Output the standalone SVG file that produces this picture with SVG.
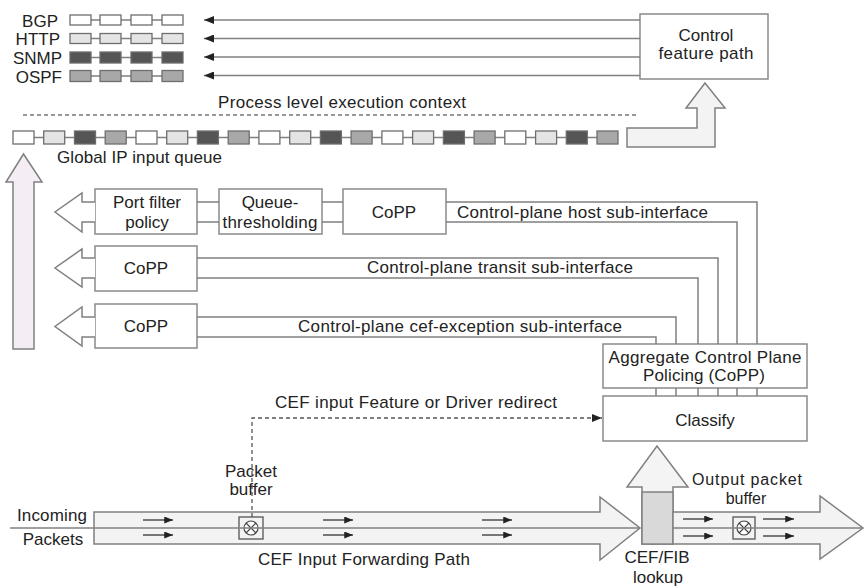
<svg xmlns="http://www.w3.org/2000/svg" width="866" height="587" viewBox="0 0 866 587">
<defs>
<style>
text{font-family:"Liberation Sans",Arial,sans-serif;font-size:17px;fill:#222}
.m{text-anchor:middle}
.e{text-anchor:end}
.box{fill:#fff;stroke:#8a8a8a;stroke-width:1.5}
.ln{fill:none;stroke:#808080;stroke-width:1.5}
.q{stroke:#6e6e6e;stroke-width:1.3}
.q0{fill:#fff}.q1{fill:#e4e4e4}.q2{fill:#555}.q3{fill:#a8a8a8}
.big{fill:#f3f3f3;stroke:#808080;stroke-width:1.5}
.arr{fill:#fff;stroke:#808080;stroke-width:1.5}
.sm{stroke:#333;stroke-width:1.3;fill:none}
</style>
<marker id="ah" viewBox="0 0 10 8" refX="10" refY="4" markerWidth="11" markerHeight="8" markerUnits="userSpaceOnUse" orient="auto">
<path d="M0,0 L10,4 L0,8 Z" fill="#222"/>
</marker>
<marker id="ahs" viewBox="0 0 10 8" refX="10" refY="4" markerWidth="10" markerHeight="7" markerUnits="userSpaceOnUse" orient="auto">
<path d="M0,0 L10,4 L0,8 Z" fill="#222"/>
</marker>
</defs>

<!-- Protocol queues -->
<g id="queue-bgp">
<text x="58" y="26.5" class="e">BGP</text>
<path class="ln" d="M91,20 H100 M121,20 H131 M152,20 H162"/>
<rect class="q q0" x="70" y="15" width="21" height="10"/><rect class="q q0" x="100" y="15" width="21" height="10"/><rect class="q q0" x="131" y="15" width="21" height="10"/><rect class="q q0" x="162" y="15" width="21" height="10"/>
</g>
<g id="queue-http">
<text x="60" y="45" class="e">HTTP</text>
<path class="ln" d="M91,38.5 H100 M121,38.5 H131 M152,38.5 H162"/>
<rect class="q q1" x="70" y="33.5" width="21" height="10"/><rect class="q q1" x="100" y="33.5" width="21" height="10"/><rect class="q q1" x="131" y="33.5" width="21" height="10"/><rect class="q q1" x="162" y="33.5" width="21" height="10"/>
</g>
<g id="queue-snmp">
<text x="62" y="64" class="e">SNMP</text>
<path class="ln" d="M91,57.5 H100 M121,57.5 H131 M152,57.5 H162"/>
<rect class="q q2" x="70" y="52" width="21" height="11"/><rect class="q q2" x="100" y="52" width="21" height="11"/><rect class="q q2" x="131" y="52" width="21" height="11"/><rect class="q q2" x="162" y="52" width="21" height="11"/>
</g>
<g id="queue-ospf">
<text x="62" y="83" class="e">OSPF</text>
<path class="ln" d="M91,76 H100 M121,76 H131 M152,76 H162"/>
<rect class="q q3" x="70" y="70.5" width="21" height="11"/><rect class="q q3" x="100" y="70.5" width="21" height="11"/><rect class="q q3" x="131" y="70.5" width="21" height="11"/><rect class="q q3" x="162" y="70.5" width="21" height="11"/>
</g>

<g id="control-feature-path">
<rect class="box" x="640" y="14" width="128" height="65"/>
<text x="706" y="41" class="m">Control</text>
<text x="706" y="59" class="m" textLength="95" lengthAdjust="spacing">feature path</text>
</g>

<g id="process-context">
<text x="218" y="108" textLength="248" lengthAdjust="spacing">Process level execution context</text>
<line x1="23" y1="115" x2="637" y2="115" stroke="#777" stroke-width="1.5" stroke-dasharray="4 3"/>
</g>

<g id="global-ip-input-queue">
<path class="ln" d="M34,137.5 H598"/>
<rect class="q q0" x="13" y="131" width="21" height="13"/>
<rect class="q q1" x="43.7" y="131" width="21" height="13"/>
<rect class="q q2" x="74.5" y="131" width="21" height="13"/>
<rect class="q q3" x="105.2" y="131" width="21" height="13"/>
<rect class="q q0" x="136" y="131" width="21" height="13"/>
<rect class="q q1" x="166.7" y="131" width="21" height="13"/>
<rect class="q q2" x="197.4" y="131" width="21" height="13"/>
<rect class="q q3" x="228.2" y="131" width="21" height="13"/>
<rect class="q q0" x="258.9" y="131" width="21" height="13"/>
<rect class="q q1" x="289.7" y="131" width="21" height="13"/>
<rect class="q q2" x="320.4" y="131" width="21" height="13"/>
<rect class="q q3" x="351.1" y="131" width="21" height="13"/>
<rect class="q q0" x="381.9" y="131" width="21" height="13"/>
<rect class="q q1" x="412.6" y="131" width="21" height="13"/>
<rect class="q q2" x="443.4" y="131" width="21" height="13"/>
<rect class="q q3" x="474.1" y="131" width="21" height="13"/>
<rect class="q q0" x="504.8" y="131" width="21" height="13"/>
<rect class="q q1" x="535.6" y="131" width="21" height="13"/>
<rect class="q q2" x="566.3" y="131" width="21" height="13"/>
<rect class="q q3" x="597" y="131" width="21" height="13"/>
<text x="57" y="163" textLength="165" lengthAdjust="spacing">Global IP input queue</text>
</g>

<g id="to-control-arrow">
<path class="big" d="M627,128 H697 V108 H686 L705,83 L725,108 H715 V147 H627 Z"/>
</g>

<g id="up-arrow-left">
<path d="M13,349 V182 H6 L23.5,154 L42,182 H34 V349 Z" fill="#f4eef4" stroke="#808080" stroke-width="1.5"/>
</g>

<g id="port-filter-policy">
<rect class="box" x="95" y="189" width="102" height="45"/>
<text x="147" y="208" class="m">Port filter</text>
<text x="147" y="228" class="m">policy</text>
</g>
<g id="queue-thresholding">
<rect class="box" x="219" y="189" width="103" height="45"/>
<text x="270" y="208" class="m">Queue-</text>
<text x="270" y="228" class="m" textLength="95" lengthAdjust="spacing">thresholding</text>
</g>
<g id="copp-host">
<rect class="box" x="343" y="189" width="103" height="45"/>
<text x="394" y="218" class="m">CoPP</text>
</g>
<g id="copp-transit">
<rect class="box" x="95" y="246" width="102" height="45"/>
<text x="146" y="274" class="m">CoPP</text>
</g>
<g id="copp-cef-exception">
<rect class="box" x="95" y="304" width="102" height="44"/>
<text x="146" y="332" class="m">CoPP</text>
</g>

<g id="aggregate-copp">
<rect class="box" x="603" y="344" width="204" height="44"/>
<text x="705" y="363" class="m" textLength="193" lengthAdjust="spacing">Aggregate Control Plane</text>
<text x="704" y="381" class="m" textLength="122" lengthAdjust="spacing">Policing (CoPP)</text>
</g>
<g id="classify">
<rect class="box" x="603" y="396" width="204" height="45"/>
<text x="705" y="426" class="m">Classify</text>
</g>

<g id="cef-fib-lookup">
<path d="M642,544 V487 H627 L657,446 L688,487 H673 V544 Z" fill="#f4f4f4" stroke="#808080" stroke-width="1.5"/>
<rect x="642" y="492" width="31" height="52" fill="#d9d9d9" stroke="#808080" stroke-width="1.5"/>
<text x="657" y="563" class="m">CEF/FIB</text>
<text x="658" y="583" class="m">lookup</text>
</g>

<g id="cef-input-forwarding-path">
<path class="big" d="M94,512 H600 V497 L640,528 L600,560 V544 H94 Z"/>
<text x="52" y="521" class="m" textLength="70" lengthAdjust="spacing">Incoming</text>
<text x="53" y="545" class="m">Packets</text>
<text x="258" y="565" textLength="212" lengthAdjust="spacing">CEF Input Forwarding Path</text>
</g>

<g id="packet-buffer">
<rect x="239" y="517" width="24" height="22" fill="#f3f3f3" stroke="#555" stroke-width="1.3"/>
<circle cx="251" cy="528" r="7" fill="#fff" stroke="#444" stroke-width="1.2"/>
<path d="M246,523 L256,533 M256,523 L246,533" stroke="#444" stroke-width="1.2"/>
<text x="251" y="477" class="m">Packet</text>
<text x="251" y="495" class="m">buffer</text>
</g>

<g id="output-path">
<path class="big" d="M673,512 H820 V496 L863,528 L820,559 V544 H673 Z"/>
<rect x="733" y="517" width="22" height="22" fill="#f3f3f3" stroke="#555" stroke-width="1.3"/>
<circle cx="744" cy="528" r="7" fill="#fff" stroke="#444" stroke-width="1.2"/>
<path d="M739,523 L749,533 M749,523 L739,533" stroke="#444" stroke-width="1.2"/>
<text x="747" y="485" class="m" style="font-size:16px" textLength="110" lengthAdjust="spacing">Output packet</text>
<text x="746" y="504" class="m" style="font-size:16px">buffer</text>
</g>

<g id="connectors">
<path class="ln" d="M640,20 H204" marker-end="url(#ah)"/>
<path class="ln" d="M640,38.5 H204" marker-end="url(#ah)"/>
<path class="ln" d="M640,57 H204" marker-end="url(#ah)"/>
<path class="ln" d="M640,75.5 H204" marker-end="url(#ah)"/>
<path class="arr" d="M95,202 H82 V193 L55,212 L82,232 V222 H95"/>
<path class="arr" d="M95,258 H82 V249 L55,268 L82,287 V278 H95"/>
<path class="arr" d="M95,317 H82 V307 L55,326.5 L82,346 V337 H95"/>
<path class="ln" d="M197,202 H219 M197,222 H219 M322,202 H343 M322,222 H343"/>
<path class="ln" d="M446,202 H757 V344"/>
<path class="ln" d="M446,222 H737 V344"/>
<path class="ln" d="M197,258 H718 V344"/>
<path class="ln" d="M197,278 H698 V344"/>
<path class="ln" d="M197,317 H676 V344"/>
<path class="ln" d="M197,337 H656 V344"/>
<path class="ln" d="M656,388 V396 M676,388 V396 M698,388 V396 M718,388 V396 M737,388 V396 M757,388 V396"/>
<text x="457" y="218" textLength="251" lengthAdjust="spacing">Control-plane host sub-interface</text>
<text x="367" y="273" textLength="266" lengthAdjust="spacing">Control-plane transit sub-interface</text>
<text x="298" y="332" textLength="324" lengthAdjust="spacing">Control-plane cef-exception sub-interface</text>
<path d="M252,517 V418 H602" fill="none" stroke="#555" stroke-width="1.3" stroke-dasharray="4 3" marker-end="url(#ah)"/>
<text x="275" y="408" textLength="282" lengthAdjust="spacing">CEF input Feature or Driver redirect</text>
<path class="ln" d="M10,528 H640"/>
<path class="ln" d="M673,528 H863"/>
<path class="sm" d="M143,520 H173" marker-end="url(#ahs)"/>
<path class="sm" d="M143,535 H173" marker-end="url(#ahs)"/>
<path class="sm" d="M323,520 H353" marker-end="url(#ahs)"/>
<path class="sm" d="M323,535 H353" marker-end="url(#ahs)"/>
<path class="sm" d="M482,520 H512" marker-end="url(#ahs)"/>
<path class="sm" d="M482,535 H512" marker-end="url(#ahs)"/>
<path class="sm" d="M683,519 H713" marker-end="url(#ahs)"/>
<path class="sm" d="M683,536 H713" marker-end="url(#ahs)"/>
<path class="sm" d="M763,519 H794" marker-end="url(#ahs)"/>
<path class="sm" d="M763,536 H794" marker-end="url(#ahs)"/>
</g>
</svg>
